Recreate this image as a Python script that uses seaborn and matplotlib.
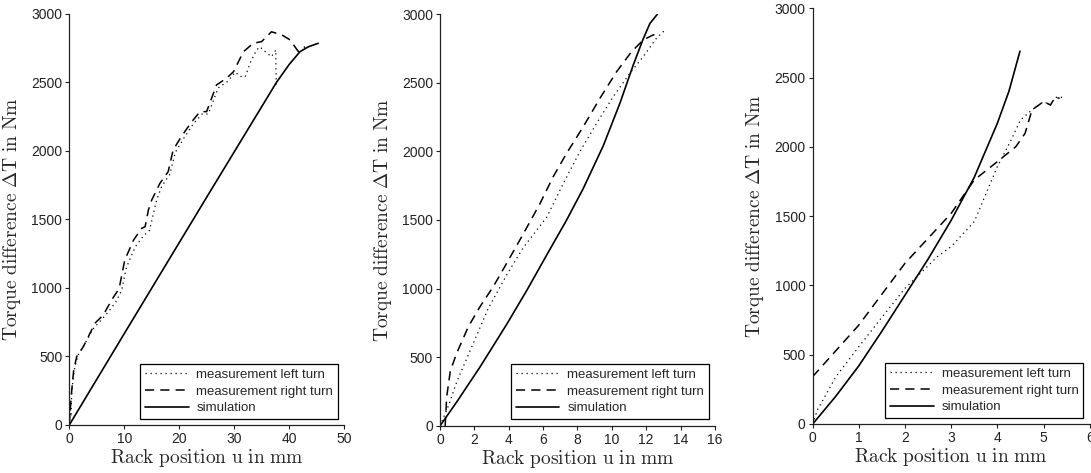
import numpy as np
import pandas as pd
import matplotlib
matplotlib.use("Agg")
import matplotlib.pyplot as plt
import seaborn as sns

# ---------------- data ----------------
labels = ["measurement left turn", "measurement right turn", "simulation"]

# panel 1
p1_left_x = [0, 0.15, 0.3, 0.45, 0.7, 1.0, 1.6, 2.8, 4.3, 5.9, 7.2, 8.5, 9.5, 10.4, 12.0, 13.5, 14.6, 15.9, 16.8, 18.3, 19.3, 20.8, 22.6, 24.2, 25.3, 27.1, 28.9, 30.2, 31.1, 32.0, 33.0, 34.1, 34.7, 35.8, 36.8, 37.6, 37.6, 37.7]
p1_left_y = [0, 130, 60, 250, 330, 420, 510, 590, 700, 770, 830, 900, 980, 1150, 1300, 1380, 1420, 1642, 1740, 1830, 1990, 2090, 2200, 2270, 2270, 2460, 2510, 2575, 2545, 2540, 2650, 2737, 2760, 2720, 2688, 2737, 2615, 2458]
p1_right_x = [0, 0.2, 0.4, 0.8, 1.35, 2.55, 4.7, 6.2, 7.7, 8.9, 9.2, 10.1, 11.7, 13.2, 13.8, 14.4, 15.0, 16.5, 18.0, 18.9, 20.4, 22.3, 23.8, 25.0, 26.8, 28.6, 29.9, 31.7, 33.5, 35.0, 36.8, 38.7, 40.2, 41.7, 42.9]
p1_right_y = [0, 120, 231, 400, 499, 571, 744, 803, 912, 985, 1022, 1204, 1350, 1436, 1447, 1569, 1642, 1764, 1849, 2007, 2105, 2214, 2287, 2287, 2482, 2530, 2579, 2725, 2786, 2798, 2870, 2847, 2810, 2725, 2761]
p1_sim_x = [0, 10.4, 24.7, 37.7, 40, 42, 43.5, 45.3]
p1_sim_y = [0, 693, 1642, 2500, 2630, 2725, 2760, 2786]

# panel 2
p2_left_x = [0, 0.5, 1, 2, 2.81, 3.88, 4.85, 6.21, 7.18, 8.15, 9.12, 10.08, 11.05, 11.83, 12.6, 13.1]
p2_left_y = [0, 150, 330, 620, 857, 1100, 1300, 1520, 1767, 2000, 2205, 2398, 2569, 2690, 2824, 2884]
p2_right_x = [0.3, 0.39, 0.6, 0.97, 1.65, 2.33, 3.1, 3.88, 4.65, 5.24, 5.82, 6.59, 7.37, 8.34, 9.31, 10.28, 11.15, 11.83, 12.41, 12.8]
p2_right_y = [0, 213, 400, 530, 723, 869, 1015, 1185, 1355, 1488, 1620, 1816, 1986, 2180, 2387, 2580, 2726, 2811, 2848, 2848]
p2_sim_x = [0, 1, 2.33, 3.88, 5.04, 6.21, 7.37, 8.34, 9.5, 10.47, 11.25, 11.83, 12.22, 12.66]
p2_sim_y = [0, 180, 430, 740, 985, 1245, 1500, 1730, 2040, 2350, 2630, 2820, 2932, 3000]

# panel 3
p3_left_x = [0, 0.1, 0.5, 1, 1.5, 2, 2.7, 3, 3.5, 4, 4.3, 4.5, 4.75, 5.0, 5.15, 5.25, 5.45]
p3_left_y = [0, 100, 340, 558, 770, 979, 1207, 1280, 1460, 1857, 2050, 2194, 2266, 2326, 2302, 2357, 2357]
p3_right_x = [0, 1, 2, 3, 3.5, 4, 4.4, 4.6, 4.75, 5.0, 5.15, 5.25, 5.35]
p3_right_y = [342, 714, 1160, 1520, 1761, 1893, 2001, 2097, 2266, 2326, 2302, 2357, 2350]
p3_sim_x = [0, 0.5, 1, 1.5, 2, 2.5, 3, 3.5, 4, 4.25, 4.49]
p3_sim_y = [0, 200, 420, 670, 930, 1190, 1470, 1780, 2170, 2400, 2690]

panels = [
    dict(series=[(p1_left_x, p1_left_y), (p1_right_x, p1_right_y), (p1_sim_x, p1_sim_y)],
         xlim=(0, 50), xticks=[0, 10, 20, 30, 40, 50],
         rect=[0.0635, 0.1015, 0.2518, 0.869], leg=(0.978, 0.0146)),
    dict(series=[(p2_left_x, p2_left_y), (p2_right_x, p2_right_y), (p2_sim_x, p2_sim_y)],
         xlim=(0, 16), xticks=[0, 2, 4, 6, 8, 10, 12, 14, 16],
         rect=[0.4033, 0.0994, 0.2520, 0.871], leg=(0.978, 0.017)),
    dict(series=[(p3_left_x, p3_left_y), (p3_right_x, p3_right_y), (p3_sim_x, p3_sim_y)],
         xlim=(0, 6), xticks=[0, 1, 2, 3, 4, 5, 6],
         rect=[0.7449, 0.1036, 0.2539, 0.879], leg=(0.976, 0.0144)),
]
yticks = [0, 500, 1000, 1500, 2000, 2500, 3000]

# ---------------- style ----------------
sns.set_style("ticks")
plt.rcParams["font.family"] = ["Liberation Sans", "DejaVu Sans"]
plt.rcParams["mathtext.fontset"] = "cm"
plt.rcParams["axes.edgecolor"] = "#222222"
plt.rcParams["axes.linewidth"] = 0.9
plt.rcParams["xtick.direction"] = "out"
plt.rcParams["ytick.direction"] = "out"
plt.rcParams["xtick.major.size"] = 3
plt.rcParams["ytick.major.size"] = 3
plt.rcParams["xtick.major.width"] = 0.8
plt.rcParams["ytick.major.width"] = 0.8

fig = plt.figure(figsize=(10.91, 4.73), dpi=100)

styles = [
    dict(dashes=(1, 3), lw=0.9),
    dict(dashes=(6, 4), lw=1.1),
    dict(dashes=(None, None), lw=1.2),
]

for p in panels:
    ax = fig.add_axes(p["rect"])
    frames = []
    for lab, (x, y) in zip(labels, p["series"]):
        frames.append(pd.DataFrame({"x": x, "y": y, "s": lab}))
    df = pd.concat(frames, ignore_index=True)
    for lab, st in zip(labels, styles):
        sub = df[df["s"] == lab]
        line_kw = dict(color="black", lw=st["lw"])
        if st["dashes"][0] is not None:
            line_kw["dashes"] = st["dashes"]
        sns.lineplot(data=sub, x="x", y="y", ax=ax, sort=False, estimator=None,
                     label=lab, **line_kw)
    ax.set_xlim(*p["xlim"])
    ax.set_ylim(0, 3000)
    ax.set_xticks(p["xticks"])
    ax.set_yticks(yticks)
    ax.tick_params(labelsize=10, colors="#222222", pad=2)
    sns.despine(ax=ax)
    ax.set_xlabel(r"$\mathrm{Rack\ position\ u\ in\ mm}$", fontsize=14, labelpad=1)
    ax.set_ylabel(r"$\mathrm{Torque\ difference\ \Delta T\ in\ Nm}$", fontsize=14, labelpad=6)
    leg = ax.legend(loc="lower right", bbox_to_anchor=p["leg"], borderaxespad=0,
                    fontsize=9.5, handlelength=3.3, handletextpad=0.6,
                    labelspacing=0.35, borderpad=0.35, fancybox=False,
                    framealpha=1, edgecolor="black")
    leg.get_frame().set_linewidth(0.9)

fig.savefig("out.png", dpi=100)
